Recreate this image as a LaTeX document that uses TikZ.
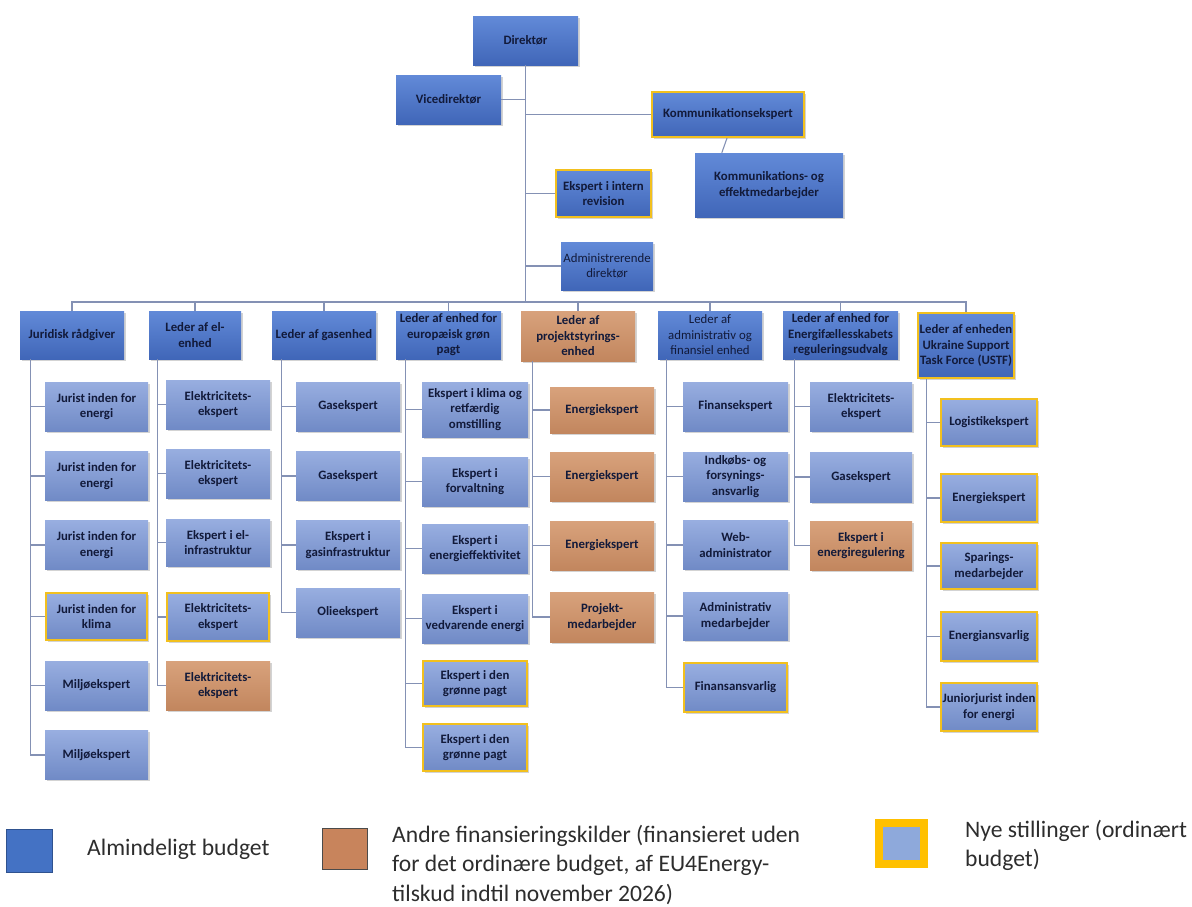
\documentclass[tikz,border=0pt]{standalone}
\usepackage{fontspec}
\setmainfont{Carlito}
\usetikzlibrary{shadows,calc}
\definecolor{hb1}{RGB}{98,138,216}
\definecolor{hb2}{RGB}{64,102,184}
\definecolor{sb1}{RGB}{152,174,224}
\definecolor{sb2}{RGB}{112,138,198}
\definecolor{br1}{RGB}{216,162,124}
\definecolor{br2}{RGB}{194,134,94}
\definecolor{ylw}{RGB}{242,192,30}
\definecolor{txt}{RGB}{18,26,58}
\definecolor{lnc}{RGB}{132,145,180}
\definecolor{legtxt}{RGB}{45,45,45}
\definecolor{lgblue}{RGB}{68,114,196}
\definecolor{lgblueb}{RGB}{47,82,143}
\definecolor{lgbrown}{RGB}{200,132,92}
\definecolor{lgbrownb}{RGB}{75,75,75}
\definecolor{lgyel}{RGB}{255,192,0}
\definecolor{lglight}{RGB}{142,169,219}
\newcommand\bxfont{\fontsize{12.8}{15.5}\selectfont\bfseries}
\newcommand\bxfontn{\fontsize{12.8}{15.5}\selectfont}
\newcommand\lgfont{\fontsize{23.6}{29.5}\selectfont}
\begin{document}
\begin{tikzpicture}[x=1pt,y=-1pt,
  base/.style={rectangle, inner sep=1pt, align=center, text=txt, font=\bxfont,
    minimum height=49pt,
    drop shadow={opacity=0.35, shadow xshift=1.5pt, shadow yshift=-1.8pt}},
  hd/.style={base, top color=hb1, bottom color=hb2},
  sb/.style={base, top color=sb1, bottom color=sb2},
  br/.style={base, top color=br1, bottom color=br2},
  nw/.style={draw=ylw, line width=2.2pt},
  ln/.style={draw=lnc, line width=1.1pt},
  legtext/.style={font=\lgfont, text=legtxt, inner sep=0pt, align=left},
  c1/.style={minimum width=103pt}, c2/.style={minimum width=104pt},
  c3/.style={minimum width=104pt}, c4/.style={minimum width=106pt},
  c5/.style={minimum width=104pt}, c6/.style={minimum width=105pt},
  c7/.style={minimum width=102pt}, c8/.style={minimum width=98pt}]
\useasboundingbox (0,0) rectangle (1192,906);

% ---------- top ----------
\node[hd, minimum width=105pt] (dir) at (525.5,40.5) {Direktør};
\node[hd, minimum width=105pt] (vice) at (448.5,99.5) {Vicedirektør};
\node[hd, nw, minimum width=152pt, minimum height=45pt] (komm) at (728,114.5) {Kommunikationsekspert};
\node[hd, minimum width=148pt, minimum height=64pt] (eff) at (769,185) {Kommunikations- og\\effektmedarbejder};
\node[hd, nw, minimum width=95pt, minimum height=47pt] (rev) at (603.5,193.5) {Ekspert i intern\\revision};
\node[hd, font=\bxfontn, minimum width=92pt, minimum height=48pt] (adm) at (607,266) {Administrerende\\direktør};

% ---------- headers ----------
\node[hd, minimum width=104pt, minimum height=48pt] (h1) at (72,335) {Juridisk rådgiver};
\node[hd, minimum width=92pt, minimum height=48pt] (h2) at (195,335) {Leder af el-\\enhed};
\node[hd, minimum width=104pt, minimum height=48pt] (h3) at (324,335) {Leder af gasenhed};
\node[hd, minimum width=105pt, minimum height=48pt] (h4) at (448.5,335) {Leder af enhed for\\europæisk grøn\\pagt};
\node[br, minimum width=114pt, minimum height=50pt] (h5) at (578,336) {Leder af\\projektstyrings-\\enhed};
\node[hd, font=\bxfontn, minimum width=104pt, minimum height=48pt] (h6) at (710,335) {Leder af\\administrativ og\\finansiel enhed};
\node[hd, minimum width=115pt, minimum height=48pt] (h7) at (840.5,335) {Leder af enhed for\\Energifællesskabets\\reguleringsudvalg};
\node[hd, nw, minimum width=96pt, minimum height=65pt] (h8) at (966,345.5) {Leder af enheden\\Ukraine Support\\Task Force (USTF)};

% ---------- column 1 ----------
\node[sb, c1] (a1) at (96.5,406.5) {Jurist inden for\\energi};
\node[sb, c1] (a2) at (96.5,476) {Jurist inden for\\energi};
\node[sb, c1] (a3) at (96.5,545) {Jurist inden for\\energi};
\node[sb, c1, nw, minimum width=101pt, minimum height=47pt] (a4) at (96.5,616.5) {Jurist inden for\\klima};
\node[sb, c1] (a5) at (96.5,685.5) {Miljøekspert};
\node[sb, c1] (a6) at (96.5,755) {Miljøekspert};

% ---------- column 2 ----------
\node[sb, c2] (b1) at (218,404.5) {Elektricitets-\\ekspert};
\node[sb, c2] (b2) at (218,473.5) {Elektricitets-\\ekspert};
\node[sb, c2, minimum height=47pt] (b3) at (218,542.5) {Ekspert i el-\\infrastruktur};
\node[sb, c2, nw, minimum width=102pt, minimum height=48pt] (b4) at (218,617) {Elektricitets-\\ekspert};
\node[br, c2] (b5) at (218,685.5) {Elektricitets-\\ekspert};

% ---------- column 3 ----------
\node[sb, c3] (d1) at (348,406.5) {Gasekspert};
\node[sb, c3] (d2) at (348,476) {Gasekspert};
\node[sb, c3] (d3) at (348,545) {Ekspert i\\gasinfrastruktur};
\node[sb, c3] (d4) at (348,612.5) {Olieekspert};

% ---------- column 4 ----------
\node[sb, c4, minimum height=55pt] (e1) at (475,409.5) {Ekspert i klima og\\retfærdig\\omstilling};
\node[sb, c4] (e2) at (475,481.5) {Ekspert i\\forvaltning};
\node[sb, c4] (e3) at (475,548.5) {Ekspert i\\energieffektivitet};
\node[sb, c4] (e4) at (475,618.5) {Ekspert i\\vedvarende energi};
\node[sb, c4, nw, minimum width=104pt, minimum height=45pt] (e5) at (475,683.5) {Ekspert i den\\grønne pagt};
\node[sb, c4, nw, minimum width=104pt, minimum height=47pt] (e6) at (475,747.5) {Ekspert i den\\grønne pagt};

% ---------- column 5 ----------
\node[br, c5, minimum height=46pt] (f1) at (602,410) {Energiekspert};
\node[br, c5] (f2) at (602,476.5) {Energiekspert};
\node[br, c5] (f3) at (602,545.5) {Energiekspert};
\node[br, c5, minimum height=50pt] (f4) at (602,617) {Projekt-\\medarbejder};

% ---------- column 6 ----------
\node[sb, c6] (g1) at (735.5,406.5) {Finansekspert};
\node[sb, c6] (g2) at (735.5,476.5) {Indkøbs- og\\forsynings-\\ansvarlig};
\node[sb, c6] (g3) at (735.5,545) {Web-\\administrator};
\node[sb, c6, minimum height=48pt] (g4) at (735.5,616) {Administrativ\\medarbejder};
\node[sb, c6, nw, minimum width=103pt] (g5) at (735.5,687.5) {Finansansvarlig};

% ---------- column 7 ----------
\node[sb, c7] (k1) at (861,406.5) {Elektricitets-\\ekspert};
\node[sb, c7, minimum height=50pt] (k2) at (861,477) {Gasekspert};
\node[br, c7] (k3) at (861,545.5) {Ekspert i\\energiregulering};

% ---------- column 8 ----------
\node[sb, c8, nw, minimum width=96pt, minimum height=47pt] (m1) at (989,422.5) {Logistikekspert};
\node[sb, c8, nw, minimum width=96pt, minimum height=48pt] (m2) at (989,498) {Energiekspert};
\node[sb, c8, nw, minimum width=96pt, minimum height=46pt] (m3) at (989,566) {Sparings-\\medarbejder};
\node[sb, c8, nw, minimum width=96pt, minimum height=49pt] (m4) at (989,636.5) {Energiansvarlig};
\node[sb, c8, nw, minimum width=96pt, minimum height=48pt] (m5) at (989,707) {Juniorjurist inden\\for energi};

% ---------- connectors: top ----------
\coordinate (bus) at (525.5,302);
\draw[ln] (dir.south) -- (bus);
\draw[ln] (vice.east) -- (vice.east -| dir.south);
\draw[ln] (komm.west) -- (komm.west -| dir.south);
\draw[ln] (rev.west) -- (rev.west -| dir.south);
\draw[ln] (adm.west) -- (adm.west -| dir.south);
\draw[ln] ($(komm.south)+(-1,0)$) -- ($(eff.north west)+(27,0)$);

% bus to headers
\draw[ln] (h1.north) -- (h1.north |- bus) -- (h8.north |- bus) -- (h8.north);
\foreach \h in {h2,h3,h4,h5,h6,h7}{\draw[ln] (\h.north) -- (\h.north |- bus);}

% ---------- connectors: columns ----------
\coordinate (s1) at ($(h1.south west)+(11,0)$);
\coordinate (s2) at ($(h2.south west)+(9,0)$);
\coordinate (s3) at ($(h3.south west)+(10,0)$);
\coordinate (s4) at ($(h4.south west)+(10,0)$);
\coordinate (s5) at ($(h5.south west)+(12,0)$);
\coordinate (s6) at ($(h6.south west)+(9,0)$);
\coordinate (s7) at ($(h7.south west)+(12,0)$);
\coordinate (s8) at ($(h8.south west)+(10,0)$);

\draw[ln] (s1) |- (a6.west);
\foreach \n in {a1,a2,a3,a4,a5}{\draw[ln] (\n.west) -- (\n.west -| s1);}
\draw[ln] (s2) |- (b5.west);
\foreach \n in {b1,b2,b3,b4}{\draw[ln] (\n.west) -- (\n.west -| s2);}
\draw[ln] (s3) |- (d4.west);
\foreach \n in {d1,d2,d3}{\draw[ln] (\n.west) -- (\n.west -| s3);}
\draw[ln] (s4) |- (e6.west);
\foreach \n in {e1,e2,e3,e4,e5}{\draw[ln] (\n.west) -- (\n.west -| s4);}
\draw[ln] (s5) |- (f4.west);
\foreach \n in {f1,f2,f3}{\draw[ln] (\n.west) -- (\n.west -| s5);}
\draw[ln] (s6) |- (g5.west);
\foreach \n in {g1,g2,g3,g4}{\draw[ln] (\n.west) -- (\n.west -| s6);}
\draw[ln] (s7) |- (k3.west);
\foreach \n in {k1,k2}{\draw[ln] (\n.west) -- (\n.west -| s7);}
\draw[ln] (s8) |- (m5.west);
\foreach \n in {m1,m2,m3,m4}{\draw[ln] (\n.west) -- (\n.west -| s8);}

% ---------- legend ----------
\node[draw=lgblueb, fill=lgblue, line width=0.8pt, minimum width=46pt, minimum height=43pt, inner sep=0pt] (lg1) at (29.5,851) {};
\node[legtext, anchor=west] (lt1) at (87,849) {Almindeligt budget};
\node[draw=lgbrownb, fill=lgbrown, line width=1.3pt, minimum width=45pt, minimum height=41pt, inner sep=0pt] (lg2) at (345,849) {};
\node[legtext, anchor=north west] (lt2) at (392,825) {Andre finansieringskilder (finansieret uden\\for det ordinære budget, af EU4Energy-\\tilskud indtil november 2026)};
\node[draw=lgyel, fill=lglight, line width=8pt, minimum width=45pt, minimum height=41pt, inner sep=0pt] (lg3) at (901.5,843.5) {};
\node[legtext, anchor=north west] (lt3) at (965,820) {Nye stillinger (ordinært\\budget)};
\end{tikzpicture}
\end{document}
